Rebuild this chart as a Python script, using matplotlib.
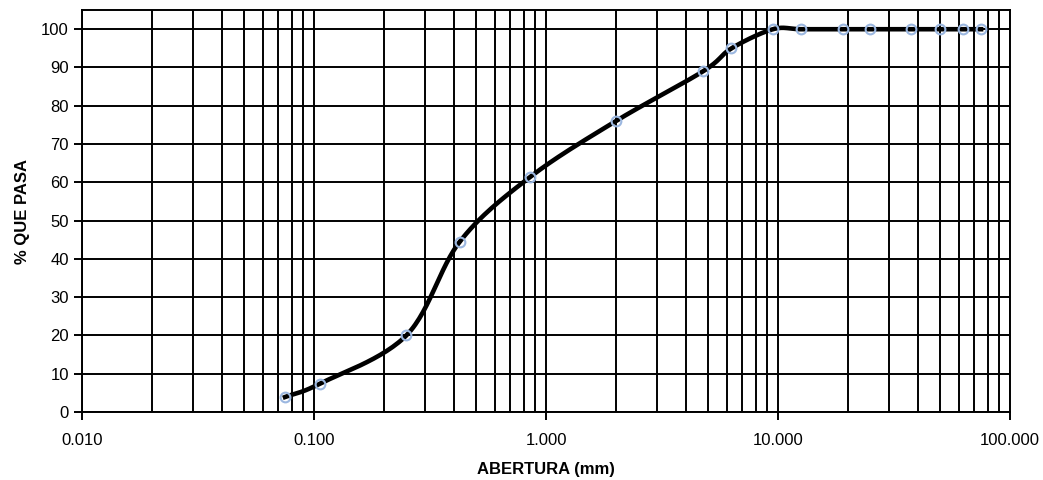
import numpy as np
import matplotlib.pyplot as plt
from matplotlib.ticker import FixedLocator, LogLocator, NullFormatter

# sieve openings (mm) and percent passing
abertura = [0.075, 0.106, 0.25, 0.425, 0.85, 2.0, 4.75, 6.3, 9.5, 12.5, 19.0, 25.0, 37.5, 50.0, 63.0, 75.0]
pasa = [3.9, 7.4, 20.0, 44.5, 61.3, 76.0, 89.0, 95.0, 100.0, 100.0, 100.0, 100.0, 100.0, 100.0, 100.0, 100.0]
xticks = [0.01, 0.1, 1.0, 10.0, 100.0]
xtick_labels = ['0.010', '0.100', '1.000', '10.000', '100.000']
yticks = list(range(0, 101, 10))


# smoothed line like the spreadsheet one (Catmull-Rom in log-x space)
def smooth(x, y, n=30):
    px = np.log10(np.asarray(x))
    py = np.asarray(y, dtype=float)
    px = np.concatenate([[2 * px[0] - px[1]], px, [2 * px[-1] - px[-2]]])
    py = np.concatenate([[2 * py[0] - py[1]], py, [2 * py[-1] - py[-2]]])
    t = np.linspace(0, 1, n)
    outx, outy = [], []
    for i in range(1, len(px) - 2):
        for arr, out in ((px, outx), (py, outy)):
            p0, p1, p2, p3 = arr[i - 1], arr[i], arr[i + 1], arr[i + 2]
            m1 = (p2 - p0) / 2
            m2 = (p3 - p1) / 2
            h00 = 2 * t**3 - 3 * t**2 + 1
            h10 = t**3 - 2 * t**2 + t
            h01 = -2 * t**3 + 3 * t**2
            h11 = t**3 - t**2
            out.extend(h00 * p1 + h10 * m1 + h01 * p2 + h11 * m2)
    return 10 ** np.array(outx), np.array(outy)


plt.rcParams['font.family'] = ['Liberation Sans Narrow', 'Liberation Sans', 'DejaVu Sans']

fig = plt.figure(figsize=(10.43, 4.80), dpi=100)
ax = fig.add_axes([0.0786, 0.1417, 0.8898, 0.8373])

sx, sy = smooth(abertura, pasa)
ax.plot(sx, sy, color='black', lw=3.3, zorder=3)
ax.plot(abertura, pasa, ls='none', marker='o', ms=7, mfc='none',
        mec='#9bb7e0', mew=1.5, zorder=4)

ax.set_xscale('log')
ax.set_xlim(0.01, 100)
ax.set_ylim(0, 105)

ax.xaxis.set_major_locator(FixedLocator(xticks))
ax.set_xticklabels(xtick_labels)
ax.xaxis.set_minor_locator(LogLocator(base=10, subs=np.arange(2, 10)))
ax.xaxis.set_minor_formatter(NullFormatter())
ax.set_yticks(yticks)

ax.grid(True, which='major', axis='both', color='black', lw=1.4)
ax.grid(True, which='minor', axis='x', color='black', lw=1.4)
ax.tick_params(axis='x', which='minor', length=0)
ax.tick_params(axis='x', which='major', pad=9)
ax.tick_params(axis='both', which='major', direction='out', length=6, width=1.4,
               labelsize=12, colors='black')
for s in ax.spines.values():
    s.set_linewidth(1.4)

ax.set_xlabel('ABERTURA (mm)', fontsize=12, fontweight='bold', labelpad=10)
ax.set_ylabel('% QUE PASA', fontsize=12, fontweight='bold', labelpad=8)

fig.savefig('out.png', dpi=100)
